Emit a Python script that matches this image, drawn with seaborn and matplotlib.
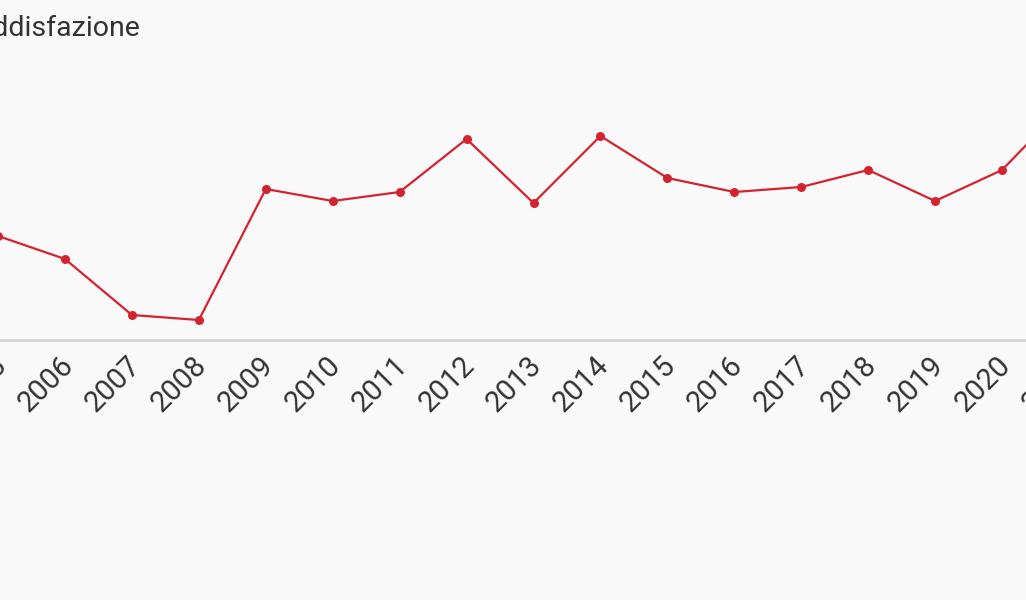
import matplotlib
matplotlib.use("Agg")
import matplotlib.pyplot as plt
import matplotlib.transforms as mtransforms
import seaborn as sns
import pandas as pd

# dati
anni = [2005, 2006, 2007, 2008, 2009, 2010, 2011, 2012, 2013,
        2014, 2015, 2016, 2017, 2018, 2019, 2020, 2021]
soddisfazione = [104, 81, 25, 20, 151, 139, 148, 201, 137,
                 204, 162, 148, 153, 170, 139, 170, 239]
titolo = "Soddisfazione"

df = pd.DataFrame({"anno": anni, "valore": soddisfazione})

sns.set_style("white")
plt.rcParams['font.family'] = ['Roboto', 'DejaVu Sans']

bg = "#f9f9f9"
rosso = "#d3232e"

fig = plt.figure(figsize=(10.26, 6.0), dpi=100)
fig.patch.set_facecolor(bg)

# l'asse va oltre i bordi della figura (grafico ritagliato)
W, H = 1026, 600
px_left, px_right = -10, 1080
px_bottom, px_top = 340, 60
ax = fig.add_axes([px_left / W, 1 - px_bottom / H,
                   (px_right - px_left) / W, (px_bottom - px_top) / H])
ax.set_facecolor(bg)

sns.lineplot(data=df, x="anno", y="valore", ax=ax, color=rosso,
             linewidth=1.6, marker="o", markersize=6.5,
             markeredgewidth=0, clip_on=False)

step = 66.93
x0 = 2005 + (px_left + 1.93) / step
x1 = 2005 + (px_right + 1.93) / step
ax.set_xlim(x0, x1)
ax.set_ylim(0, 280)

ax.set_xticks(anni)
ax.set_xticklabels([str(a) for a in anni], rotation=45, ha="right",
                   rotation_mode="anchor", fontsize=21, color="#333333")
ax.tick_params(axis="x", length=0, pad=8)
# piccolo spostamento delle etichette a sinistra
offset = mtransforms.ScaledTranslation(-6 / 100, 0, fig.dpi_scale_trans)
for lab in ax.get_xticklabels():
    lab.set_transform(lab.get_transform() + offset)
ax.set_yticks([])
ax.set_xlabel("")
ax.set_ylabel("")

for s in ["top", "left", "right"]:
    ax.spines[s].set_visible(False)
ax.spines["bottom"].set_color("#d6d6d6")
ax.spines["bottom"].set_linewidth(2.2)

fig.text(141 / W, 1 - 29 / H, titolo, ha="right", va="center",
         fontsize=20.5, color="#333333")

fig.savefig("out.png", dpi=100, facecolor=bg)
